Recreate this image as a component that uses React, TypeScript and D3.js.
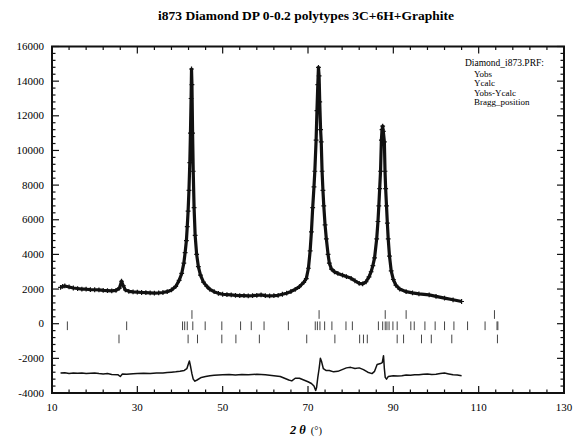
import React from 'react';
import * as d3 from 'd3';

const obsX = [12.0, 12.5, 13.0, 14.0, 15.0, 16.0, 17.0, 18.0, 19.0, 20.0, 21.0, 22.0, 23.0, 24.0, 25.0, 25.8, 26.3, 26.7, 27.2, 28.0, 29.0, 30.0, 31.0, 32.0, 33.0, 34.0, 35.0, 36.0, 37.0, 38.0, 39.0, 39.8, 40.4, 40.9, 41.2, 41.5, 41.7, 41.9, 42.1, 42.3, 42.45, 42.6, 42.7, 42.8, 42.95, 43.1, 43.3, 43.55, 43.9, 44.3, 44.8, 45.5, 46.3, 47.0, 48.0, 49.0, 50.0, 51.0, 52.0, 53.0, 54.0, 55.0, 56.0, 57.0, 58.0, 59.0, 60.0, 61.0, 62.0, 63.0, 64.0, 65.0, 66.0, 67.0, 68.0, 69.0, 69.6, 70.1, 70.5, 70.8, 71.1, 71.4, 71.6, 71.9, 72.1, 72.3, 72.45, 72.6, 72.75, 72.95, 73.1, 73.3, 73.5, 73.7, 74.0, 74.3, 74.7, 75.0, 75.5, 76.2, 77.0, 78.1, 79.0, 80.1, 81.0, 82.0, 82.8, 83.6, 84.3, 84.8, 85.2, 85.6, 86.1, 86.4, 86.6, 86.8, 87.0, 87.2, 87.35, 87.5, 87.65, 87.9, 88.05, 88.2, 88.4, 88.6, 88.8, 89.1, 89.5, 90.0, 90.6, 91.5, 93.0, 94.5, 96.0, 98.4, 100.0, 102.0, 104.0, 106.0];
const obsY = [2100, 2150, 2180, 2120, 2060, 2030, 2000, 1990, 1970, 1960, 1950, 1920, 1910, 1900, 1920, 2050, 2450, 2200, 1950, 1870, 1840, 1820, 1800, 1790, 1780, 1770, 1780, 1800, 1850, 1950, 2150, 2500, 2900, 3500, 4100, 4800, 5600, 6500, 7700, 9300, 11000, 13000, 14700, 13800, 11000, 8800, 6700, 5100, 4000, 3300, 2800, 2400, 2150, 1980, 1850, 1750, 1700, 1680, 1660, 1640, 1620, 1620, 1610, 1620, 1640, 1660, 1620, 1610, 1620, 1640, 1700, 1760, 1860, 1980, 2140, 2380, 2600, 3200, 4200, 5300, 6700, 7900, 8800, 10600, 12300, 13800, 14800, 14300, 12800, 11200, 10500, 8800, 7700, 6800, 5700, 4900, 4000, 3500, 3150, 3000, 2900, 2800, 2720, 2620, 2480, 2330, 2300, 2420, 2700, 3000, 3350, 3800, 4900, 5900, 6800, 7800, 8800, 10600, 11200, 11400, 11100, 10500, 8800, 7800, 6800, 5800, 4900, 3900, 3050, 2550, 2220, 2000, 1850, 1780, 1720, 1660, 1580, 1480, 1380, 1280];

// Difference curve Yobs-Ycalc as plotted (with its offset)
const diffX = [12, 13, 14, 15, 16, 17, 18, 19, 20, 21, 22, 23, 24, 25.5, 26.0, 26.5, 27.5, 29, 30, 31.5, 33, 34.5, 36, 37, 38, 39, 40, 41.0, 41.6, 42.0, 42.2, 42.5, 42.8, 43.1, 43.5, 44.0, 45.0, 46.0, 47, 48, 49, 50, 51.5, 53, 54.5, 56, 58, 60, 62, 63.5, 64.5, 65.5, 66.2, 67.0, 68.0, 69.0, 70.0, 70.8, 71.4, 71.8, 72.0, 72.3, 72.6, 72.9, 73.2, 73.6, 74.2, 75, 76, 77, 78, 79, 80, 81, 82, 83, 84, 85, 85.6, 86.2, 87.0, 87.4, 87.7, 87.9, 88.1, 88.4, 88.8, 90, 91, 92, 93, 94, 95, 96, 97, 98, 99, 100, 101, 102, 103, 104, 105, 106];
const diffY = [-2850, -2830, -2870, -2840, -2860, -2850, -2880, -2860, -2850, -2880, -2900, -2880, -2930, -2950, -3050, -2900, -2920, -2890, -2880, -2860, -2870, -2840, -2850, -2820, -2800, -2780, -2750, -2700, -2600, -2300, -2150, -2500, -2900, -3200, -3320, -3250, -3100, -3050, -3000, -2980, -2960, -2950, -2930, -2960, -2930, -2940, -2920, -2950, -3000, -3050, -3150, -3250, -3300, -3150, -3150, -3250, -3350, -3450, -3600, -3850, -3700, -3100, -2600, -2000, -2200, -2600, -2700, -2700, -2780, -2750, -2650, -2550, -2520, -2580, -2550, -2650, -2800, -2880, -2750, -2350, -2300, -2250, -1850, -2600, -3100, -3200, -3050, -3000, -3020, -3000, -2960, -2980, -2940, -2950, -2920, -2900, -2930, -2920, -2880, -2850, -2900, -2950, -2960, -3000];

// Bragg reflections, one list per phase
const braggDiamond3C = [42.8, 72.6, 88.1, 93.0, 113.7];
const braggDiamond6H = [13.6, 27.5, 40.6, 41.1, 41.7, 43.0, 45.9, 49.8, 54.2, 56.7, 59.7, 65.4, 71.7, 72.2, 72.8, 73.9, 75.6, 78.9, 80.4, 86.5, 87.5, 88.1, 88.5, 89.0, 89.9, 90.9, 94.1, 94.9, 97.4, 99.8, 102.0, 104.2, 107.4, 111.5, 114.3, 114.5];
const braggGraphite = [25.7, 41.9, 44.1, 49.8, 53.1, 58.6, 69.7, 76.3, 82.1, 83.0, 83.9, 90.9, 92.4, 96.6, 98.9, 103.7, 114.4];
const braggRows = [530, -120, -880];

const xTicks = [10, 30, 50, 70, 90, 110, 130];
const yTicks = [-4000, -2000, 0, 2000, 4000, 6000, 8000, 10000, 12000, 14000, 16000];
const legendItems = ['Yobs', 'Ycalc', 'Yobs-Ycalc', 'Bragg_position'];

const W = 573, H = 441;
const serif = '"Liberation Serif", "DejaVu Serif", serif';

export default function App() {
  document.body.style.margin = '0';

  const x = d3.scaleLinear().domain([10, 130]).range([52, 564]);
  const y = d3.scaleLinear().domain([-4000, 16000]).range([393, 46.5]);
  const [x0, x1] = x.range();
  const [y0, y1] = y.range();

  const obs = obsX.map((v, i) => [v, obsY[i]]);
  const diff = diffX.map((v, i) => [v, diffY[i]]);
  const line = d3.line().x(d => x(d[0])).y(d => y(d[1]));

  const xMinor = d3.range(10, 130.1, 4);
  const yMinor = d3.range(-4000, 16001, 400);
  const phases = [braggDiamond3C, braggDiamond6H, braggGraphite];

  return (
    <svg width={W} height={H} style={{ display: 'block', background: '#fff' }}>
      <text x={306} y={20} textAnchor="middle" fontFamily={serif} fontWeight="bold" fontSize={13.5}>
        i873 Diamond DP 0-0.2 polytypes 3C+6H+Graphite
      </text>

      {/* ticks, inward on all four sides */}
      <g stroke="#111" strokeWidth={1.2}>
        {xMinor.map(t => {
          const major = (t - 10) % 20 === 0;
          const len = major ? 7 : 3.5;
          return (
            <g key={'xt' + t}>
              <line x1={x(t)} x2={x(t)} y1={y0} y2={y0 - len} />
              <line x1={x(t)} x2={x(t)} y1={y1} y2={y1 + len} />
            </g>
          );
        })}
        {yMinor.map(t => {
          const major = t % 2000 === 0;
          const len = major ? 7 : 3.5;
          return (
            <g key={'yt' + t}>
              <line x1={x0} x2={x0 + len} y1={y(t)} y2={y(t)} />
              <line x1={x1} x2={x1 - len} y1={y(t)} y2={y(t)} />
            </g>
          );
        })}
      </g>
      <rect x={x0} y={y1} width={x1 - x0} height={y0 - y1} fill="none" stroke="#111" strokeWidth={2} />

      {yTicks.map(t => (
        <text key={'yl' + t} x={44} y={y(t) + 3.5} textAnchor="end" fontFamily={serif} fontSize={11}>{t}</text>
      ))}
      {xTicks.map(t => (
        <text key={'xl' + t} x={x(t)} y={411} textAnchor="middle" fontFamily={serif} fontSize={11}>{t}</text>
      ))}
      <text x={306} y={434} textAnchor="middle" fontFamily={serif} fontSize={12.5}>
        <tspan fontWeight="bold" fontStyle="italic">2 θ</tspan>
        <tspan dx={5} fontSize={10.5}>(°)</tspan>
      </text>

      {/* Ycalc */}
      <path d={line(obs) as string} fill="none" stroke="#777" strokeWidth={1} />
      {/* Yobs */}
      <path d={line(obs) as string} fill="none" stroke="#111" strokeWidth={3.2} strokeLinejoin="round" />
      <g stroke="#111" strokeWidth={1.2}>
        {obs.map((d, i) => (
          <path key={'o' + i} d={`M${x(d[0]) - 2.4},${y(d[1])}h4.8M${x(d[0])},${y(d[1]) - 2.4}v4.8`} />
        ))}
      </g>

      {/* Bragg positions */}
      <g stroke="#444" strokeWidth={1}>
        {phases.map((ph, r) =>
          ph.map((b, i) => (
            <line key={`b${r}-${i}`} x1={x(b)} x2={x(b)} y1={y(braggRows[r] + 250)} y2={y(braggRows[r] - 250)} />
          ))
        )}
      </g>

      {/* difference */}
      <path d={line(diff) as string} fill="none" stroke="#111" strokeWidth={1.5} strokeLinejoin="round" />

      <g fontFamily={serif} fontSize={9}>
        <text x={465} y={66} fontSize={9.5}>Diamond_i873.PRF:</text>
        {legendItems.map((s, i) => (
          <text key={s} x={474} y={77 + i * 9.4}>{s}</text>
        ))}
      </g>
    </svg>
  );
}
